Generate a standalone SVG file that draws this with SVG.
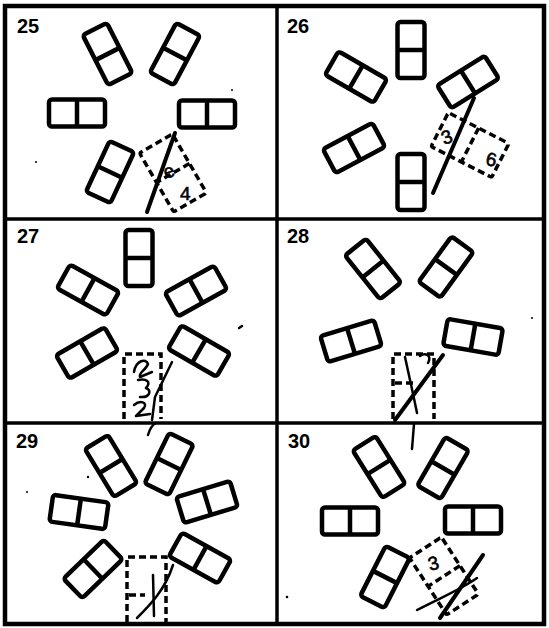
<svg xmlns="http://www.w3.org/2000/svg" width="549" height="628" viewBox="0 0 549 628">
<style>
.dom rect,.dom line{fill:none;stroke:#000;stroke-width:4.5;stroke-linejoin:round}
.dsh{fill:none;stroke:#000;stroke-width:3.5;stroke-dasharray:7 4}
.ink{fill:none;stroke:#000;stroke-width:4;stroke-linecap:round;stroke-linejoin:round}
.thin{fill:none;stroke:#000;stroke-width:2.5;stroke-linecap:round;stroke-linejoin:round}
.frame{fill:none;stroke:#000;stroke-width:4.5}
.div{stroke:#000;stroke-width:3.5}
.lbl{font-family:"Liberation Sans",Arial,sans-serif;font-weight:bold;font-size:20px;fill:#000}
.hw{font-family:"Liberation Sans",Arial,sans-serif;font-size:19px;fill:#000;stroke:#000;stroke-width:0.6}
</style>
<defs>
<g id="dom" class="dom"><rect x="-28" y="-13.5" width="56" height="27" rx="3"/><line x1="0" y1="-13.5" x2="0" y2="13.5"/></g>
<g id="ddom"><rect class="dsh" x="-34" y="-19" width="68" height="38" rx="2"/><line class="dsh" x1="0" y1="-19" x2="0" y2="19"/></g>
</defs>
<rect width="549" height="628" fill="#fff"/>
<g id="frame">
<rect class="frame" x="5" y="6" width="539" height="618"/>
<line class="div" x1="277" y1="6" x2="277" y2="624"/>
<line class="div" x1="5" y1="219" x2="544" y2="219"/>
<line class="div" x1="5" y1="423" x2="544" y2="423"/>
</g>
<g id="labels">
<text class="lbl" x="17" y="33">25</text>
<text class="lbl" x="287" y="33">26</text>
<text class="lbl" x="17" y="243">27</text>
<text class="lbl" x="287" y="243">28</text>
<text class="lbl" x="16" y="448">29</text>
<text class="lbl" x="288" y="448">30</text>
</g>
<g id="panel25">
<use href="#dom" transform="translate(77,113) rotate(0)"/>
<use href="#dom" transform="translate(207,114) rotate(0)"/>
<use href="#dom" transform="translate(107.5,54) rotate(63)"/>
<use href="#dom" transform="translate(175,54) rotate(118)"/>
<use href="#dom" transform="translate(110,172) rotate(115)"/>
<use href="#ddom" transform="translate(173,173) rotate(60)"/>
<path class="ink" d="M175,133 L147,212"/>
<text class="hw" transform="translate(166,179) rotate(-20)">e</text>
<text class="hw" transform="translate(180,200)">4</text>
</g>
<g id="panel26">
<use href="#dom" transform="translate(411,50) rotate(90)"/>
<use href="#dom" transform="translate(411,182) rotate(90)"/>
<use href="#dom" transform="translate(356,77) rotate(30)"/>
<use href="#dom" transform="translate(354,148) rotate(-28)"/>
<use href="#dom" transform="translate(468,82) rotate(-32)"/>
<use href="#ddom" transform="translate(470,145) rotate(27)"/>
<path class="ink" d="M474,98 L433,193"/>
<text class="hw" transform="translate(444,145) rotate(-20)">3</text>
<text class="hw" transform="translate(485,165) rotate(10)">6</text>
</g>
<g id="panel27">
<use href="#dom" transform="translate(139,258) rotate(90)"/>
<use href="#dom" transform="translate(88,290) rotate(29)"/>
<use href="#dom" transform="translate(196,291) rotate(-29)"/>
<use href="#dom" transform="translate(87,353) rotate(-30)"/>
<use href="#dom" transform="translate(199,351) rotate(30)"/>
<path class="dsh" d="M124,419 L124,354 L161,354 L161,419"/>
<path class="thin" d="M172,362 L155,397 L152,420"/>
<path class="thin" d="M134,372 C136,360 146,358 148,364 C146,370 138,373 140,377 L152,372"/>
<path class="thin" d="M138,380 C146,378 152,382 146,388 C152,390 150,398 140,397"/>
<path class="thin" d="M134,405 C140,400 148,402 144,408 L136,416 L150,414"/>
</g>
<g id="panel28">
<use href="#dom" transform="translate(373,269) rotate(51.5)"/>
<use href="#dom" transform="translate(446,267) rotate(126)"/>
<use href="#dom" transform="translate(351,341) rotate(-17)"/>
<use href="#dom" transform="translate(473,337) rotate(10)"/>
<path class="dsh" d="M393,419 L393,354 L434,354 L434,419"/>
<path class="dsh" d="M395,383 L415,383"/>
<path class="ink" d="M443,355 L395,420"/>
<path class="thin" d="M405,357 C410,380 414,398 417,413"/>
<path class="thin" d="M420,356 C426,352 432,356 428,363"/>
</g>
<g id="panel29">
<use href="#dom" transform="translate(111,466) rotate(58.7)"/>
<use href="#dom" transform="translate(169,464) rotate(116)"/>
<use href="#dom" transform="translate(79,512) rotate(8)"/>
<use href="#dom" transform="translate(207,502) rotate(-17)"/>
<use href="#dom" transform="translate(93,569) rotate(-44)"/>
<use href="#dom" transform="translate(200,558) rotate(29)"/>
<path class="dsh" d="M127,622 L127,557 L166,557 L166,622"/>
<path class="dsh" d="M129,595 L145,595"/>
<path class="thin" d="M173,565 C165,590 150,605 137,618"/>
<path class="thin" d="M153,575 L154,616"/>
<path class="thin" d="M148,435 C150,428 152,425 156,423"/>
</g>
<g id="panel30">
<use href="#dom" transform="translate(379,467) rotate(58)"/>
<use href="#dom" transform="translate(443,468) rotate(120)"/>
<use href="#dom" transform="translate(350,521) rotate(0)"/>
<use href="#dom" transform="translate(473,520) rotate(0)"/>
<use href="#dom" transform="translate(385,577) rotate(117)"/>
<use href="#ddom" transform="translate(444,576) rotate(57)"/>
<path class="ink" d="M483,555 L440,618"/>
<path class="thin" d="M417,610 C440,598 460,590 477,578"/>
<path class="thin" d="M414,424 L412,449"/>
<text class="hw" transform="translate(430,571) rotate(-15)">3</text>
</g>
<g id="specks">
<circle cx="232" cy="90" r="1"/>
<circle cx="36" cy="162" r="1"/>
<path class="thin" d="M239,328 L242,326" stroke-width="1.5"/>
<circle cx="532" cy="318" r="1"/>
<circle cx="27" cy="492" r="1"/>
<circle cx="88" cy="477" r="1.2"/>
<circle cx="287" cy="597" r="1.3"/>
</g>
</svg>
